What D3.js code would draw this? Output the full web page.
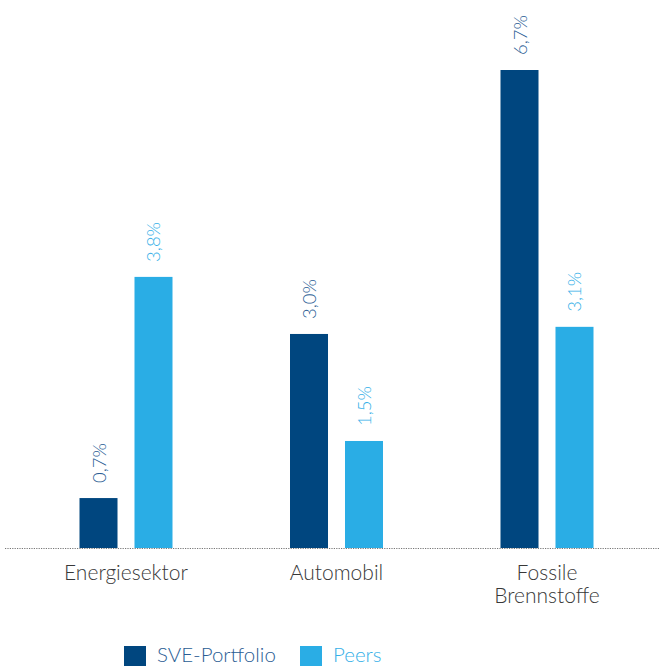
<!DOCTYPE html>
<html>
<head>
<meta charset="utf-8">
<script src="https://cdn.jsdelivr.net/npm/d3@7"></script>
<style>
  html, body { margin: 0; padding: 0; background: #fff; }
  svg { display: block; font-family: Lato, "Open Sans", sans-serif; font-weight: 300; }
</style>
</head>
<body>
<svg id="chart" width="660" height="666"></svg>
<script>
// Exposure by sector: portfolio vs. peer group (in %)
const categories = ["Energiesektor", "Automobil", "Fossile Brennstoffe"];
const categoryLines = [["Energiesektor"], ["Automobil"], ["Fossile", "Brennstoffe"]];
const seriesNames = ["SVE-Portfolio", "Peers"];
const portfolioValues = [0.7, 3.0, 6.7];
const peerValues = [3.8, 1.5, 3.1];
const seriesColors = ["#00467f", "#2aade5"];
const labelColors = ["#2a5d94", "#36b0e8"];

const svg = d3.select("#chart");
const baseline = 548;
const groupWidth = 93;

const x = d3.scaleBand().domain(categories).range([20.75, 652.25]).paddingInner(0).paddingOuter(0);
const xs = d3.scaleBand().domain(seriesNames).range([0, groupWidth]).paddingInner(0.309).paddingOuter(0);
const y = d3.scaleLinear().domain([0, 6.7]).range([baseline, 70]);

const fmt = v => d3.format(".1f")(v).replace(".", ",") + "%";

const rows = categories.map((c, i) => ({
  cat: c,
  vals: [portfolioValues[i], peerValues[i]]
}));

const groups = svg.selectAll("g.grp").data(rows).join("g")
  .attr("class", "grp")
  .attr("transform", d => `translate(${x(d.cat) + (x.bandwidth() - groupWidth) / 2},0)`);

const cells = groups.selectAll("g.cell")
  .data(d => d.vals.map((v, j) => ({ name: seriesNames[j], v, j })))
  .join("g").attr("class", "cell");

cells.append("rect")
  .attr("x", d => xs(d.name))
  .attr("width", xs.bandwidth())
  .attr("y", d => y(d.v))
  .attr("height", d => baseline - y(d.v))
  .attr("fill", d => seriesColors[d.j]);

cells.append("text")
  .attr("transform", d => `translate(${xs(d.name) + xs.bandwidth() / 2 + 7},${y(d.v) - 15}) rotate(-90)`)
  .attr("text-anchor", "start")
  .attr("font-size", 18.5)
  .attr("fill", d => labelColors[d.j])
  .text(d => fmt(d.v));

// dotted baseline
svg.append("line")
  .attr("x1", 5).attr("x2", 660)
  .attr("y1", baseline + 0.5).attr("y2", baseline + 0.5)
  .attr("stroke", "#777").attr("stroke-width", 1.2)
  .attr("stroke-dasharray", "1.2,1.2");

// category labels
const catLabels = svg.selectAll("text.cat").data(categories).join("text")
  .attr("class", "cat")
  .attr("x", d => x(d) + x.bandwidth() / 2)
  .attr("y", 580)
  .attr("text-anchor", "middle")
  .attr("font-size", 21)
  .attr("fill", "#383838");
catLabels.each(function(d, i) {
  d3.select(this).selectAll("tspan").data(categoryLines[i]).join("tspan")
    .attr("x", x(d) + x.bandwidth() / 2)
    .attr("dy", (t, k) => k === 0 ? 0 : 23)
    .text(t => t);
});

// legend
const legendX = [124, 300];
const legend = svg.selectAll("g.leg").data(seriesNames).join("g")
  .attr("class", "leg")
  .attr("transform", (d, i) => `translate(${legendX[i]},646)`);
legend.append("rect").attr("width", 22).attr("height", 22)
  .attr("fill", (d, i) => seriesColors[i]);
legend.append("text").attr("x", 33).attr("y", 16)
  .attr("font-size", 20.5)
  .attr("fill", (d, i) => labelColors[i])
  .text(d => d);
</script>
</body>
</html>
